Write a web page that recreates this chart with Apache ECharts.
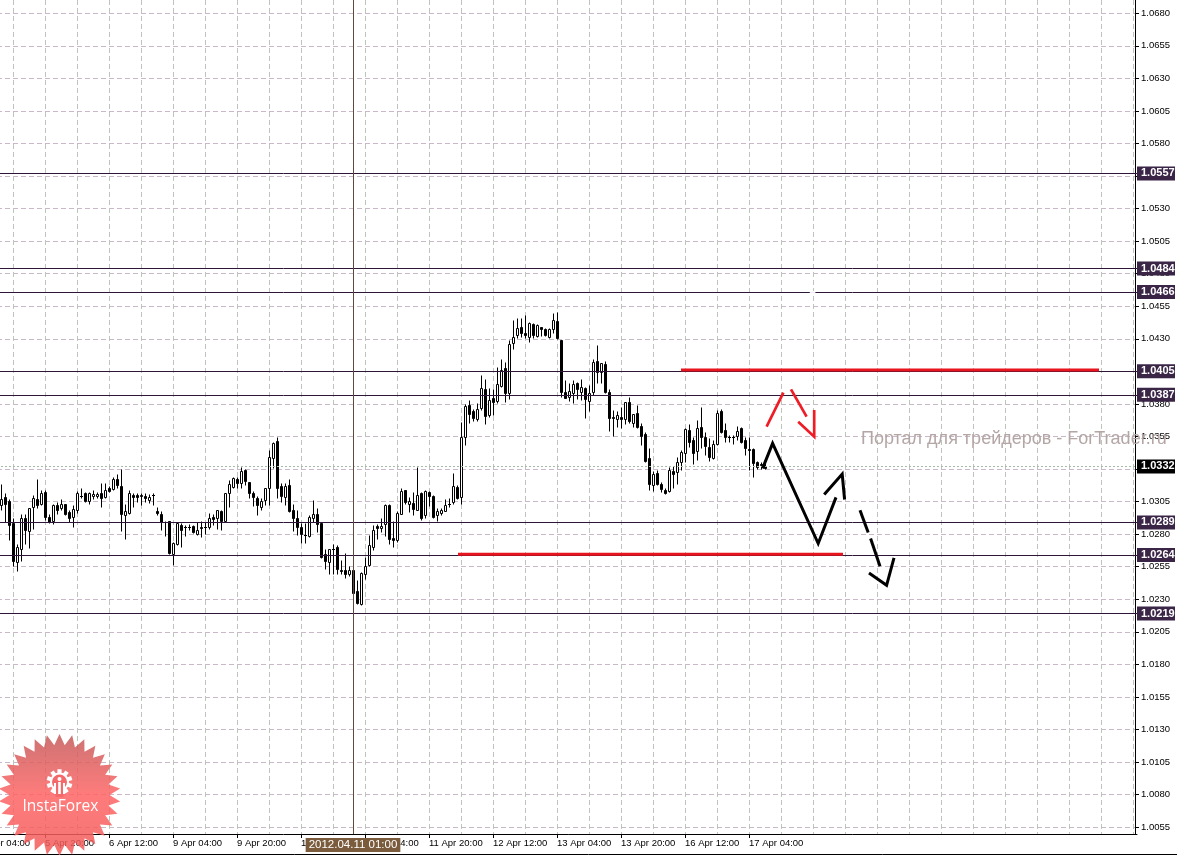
<!DOCTYPE html>
<html>
<head>
<meta charset="utf-8">
<script src="https://cdn.jsdelivr.net/npm/echarts@6/dist/echarts.min.js"></script>
<style>html,body{margin:0;padding:0;background:#fff}#c{width:1177px;height:855px}</style>
</head>
<body>
<div id="c"></div>
<script>
// x-axis labels, one every 16 hourly bars starting at bar 0
const tickLabels = ['5 Apr 04:00','5 Apr 20:00','6 Apr 12:00','9 Apr 04:00','9 Apr 20:00','10 Apr 12:00','11 Apr 04:00','11 Apr 20:00','12 Apr 12:00','13 Apr 04:00','13 Apr 20:00','16 Apr 12:00','17 Apr 04:00'];
const yTicks = [1.0055,1.0080,1.0105,1.0130,1.0155,1.0180,1.0205,1.0230,1.0255,1.0280,1.0305,1.0330,1.0355,1.0380,1.0405,1.0430,1.0455,1.0480,1.0505,1.0530,1.0555,1.0580,1.0605,1.0630,1.0655,1.0680];
const firstBar = 5;
// small calibration of the values
const readingShift = 0.00007;
const opens = [1.03015,1.03077,1.03046,1.02879,1.02579,1.02682,1.02920,1.02820,1.03003,1.03062,
1.03023,1.03115,1.02923,1.02895,1.03020,1.02990,1.03023,1.02962,1.02926,1.02982,
1.03087,1.03105,1.03049,1.03085,1.03085,1.03110,1.03079,1.03146,1.03141,1.03213,
1.03159,1.02941,1.02956,1.03092,1.03090,1.03090,1.03085,1.03054,1.03092,1.02974,
1.02951,1.02887,1.02890,1.02644,1.02720,1.02862,1.02846,1.02849,1.02859,1.02795,
1.02851,1.02846,1.02846,1.02923,1.02913,1.02969,1.02897,1.03110,1.03156,1.03215,
1.03182,1.03285,1.03190,1.03105,1.03074,1.03003,1.03054,1.03151,1.03374,1.03505,
1.03161,1.03079,1.03174,1.02982,1.02913,1.02846,1.02790,1.02777,1.02920,1.02944,
1.02877,1.02644,1.02579,1.02682,1.02692,1.02520,1.02518,1.02485,1.02520,1.02354,
1.02254,1.02490,1.02554,1.02695,1.02854,1.02841,1.02869,1.03018,1.02761,1.02746,
1.02949,1.03131,1.03028,1.03031,1.02979,1.03105,1.02938,1.03113,1.03085,1.02941,
1.02956,1.02974,1.03026,1.03041,1.03156,1.03079,1.03541,1.03784,1.03738,1.03679,
1.03764,1.03905,1.03710,1.03836,1.03818,1.03930,1.04066,1.03874,1.04264,1.04325,
1.04382,1.04336,1.04310,1.04405,1.04315,1.04382,1.04366,1.04310,1.04371,1.04430,
1.04284,1.03882,1.03848,1.03879,1.03951,1.03887,1.03913,1.03818,1.03882,1.04123,
1.04041,1.04100,1.03882,1.03689,1.03674,1.03689,1.03674,1.03807,1.03648,1.03720,
1.03623,1.03559,1.03374,1.03174,1.03259,1.03177,1.03131,1.03126,1.03277,1.03272,
1.03349,1.03413,1.03592,1.03513,1.03431,1.03613,1.03539,1.03459,1.03374,1.03485,
1.03741,1.03590,1.03541,1.03541,1.03546,1.03605,1.03515,1.03449,1.03449,1.03344,
1.03328,1.03315];
const closes = [1.03062,1.03023,1.02862,1.02585,1.02692,1.02913,1.02823,1.02990,1.03074,1.03015,
1.03108,1.02926,1.02885,1.03013,1.02977,1.03028,1.02951,1.02915,1.02987,1.03105,
1.03085,1.03051,1.03105,1.03103,1.03100,1.03067,1.03131,1.03126,1.03220,1.03169,
1.02951,1.02972,1.03105,1.03079,1.03079,1.03088,1.03072,1.03079,1.03090,1.02956,
1.02885,1.02885,1.02646,1.02728,1.02879,1.02826,1.02844,1.02847,1.02810,1.02828,
1.02838,1.02844,1.02920,1.02910,1.02982,1.02895,1.03105,1.03177,1.03223,1.03187,
1.03274,1.03200,1.03110,1.03079,1.03013,1.03051,1.03151,1.03382,1.03490,1.03149,
1.03085,1.03161,1.02972,1.02920,1.02849,1.02797,1.02788,1.02928,1.02951,1.02874,
1.02618,1.02587,1.02677,1.02680,1.02526,1.02510,1.02485,1.02520,1.02341,1.02264,
1.02497,1.02551,1.02713,1.02828,1.02838,1.02859,1.03020,1.02756,1.02746,1.02959,
1.03123,1.03041,1.03044,1.02987,1.03090,1.02920,1.03126,1.03085,1.02926,1.02974,
1.02982,1.03020,1.03024,1.03159,1.03072,1.03536,1.03777,1.03715,1.03684,1.03754,
1.03913,1.03702,1.03823,1.03810,1.03943,1.04054,1.03874,1.04251,1.04310,1.04377,
1.04341,1.04323,1.04413,1.04323,1.04400,1.04371,1.04323,1.04366,1.04438,1.04297,
1.03887,1.03841,1.03889,1.03946,1.03905,1.03920,1.03833,1.03874,1.04115,1.04041,
1.04107,1.03887,1.03682,1.03687,1.03707,1.03677,1.03810,1.03661,1.03715,1.03613,
1.03548,1.03356,1.03177,1.03251,1.03179,1.03141,1.03110,1.03282,1.03257,1.03344,
1.03423,1.03603,1.03503,1.03418,1.03605,1.03541,1.03469,1.03382,1.03482,1.03721,
1.03574,1.03541,1.03539,1.03539,1.03587,1.03503,1.03454,1.03436,1.03336,1.03310,
1.03326,1.03298];
const lows = [1.02982,1.02887,1.02746,1.02549,1.02508,1.02587,1.02715,1.02687,1.02836,1.02997,
1.03013,1.02905,1.02879,1.02869,1.02946,1.02982,1.02938,1.02885,1.02849,1.02956,
1.03074,1.03038,1.03023,1.03064,1.03067,1.03003,1.03074,1.03115,1.03131,1.03144,
1.02815,1.02754,1.02951,1.03003,1.03041,1.03015,1.03041,1.03033,1.03015,1.02938,
1.02823,1.02777,1.02638,1.02554,1.02710,1.02695,1.02777,1.02828,1.02803,1.02785,
1.02772,1.02792,1.02836,1.02862,1.02836,1.02823,1.02895,1.03003,1.03151,1.03144,
1.03144,1.03169,1.03067,1.03008,1.02938,1.02982,1.03018,1.03015,1.03300,1.03067,
1.03041,1.03015,1.02964,1.02818,1.02785,1.02726,1.02726,1.02772,1.02885,1.02810,
1.02610,1.02528,1.02487,1.02490,1.02490,1.02490,1.02456,1.02469,1.02336,1.02259,
1.02246,1.02451,1.02549,1.02669,1.02759,1.02810,1.02777,1.02715,1.02695,1.02733,
1.02944,1.03023,1.02964,1.02938,1.02977,1.02905,1.02913,1.03008,1.02918,1.02895,
1.02938,1.02969,1.03003,1.03028,1.03064,1.03023,1.03477,1.03648,1.03664,1.03664,
1.03746,1.03638,1.03689,1.03707,1.03802,1.03920,1.03810,1.03828,1.04213,1.04297,
1.04310,1.04297,1.04271,1.04297,1.04305,1.04315,1.04315,1.04297,1.04336,1.04289,
1.03843,1.03836,1.03818,1.03802,1.03828,1.03823,1.03682,1.03741,1.03861,1.03951,
1.03951,1.03879,1.03587,1.03546,1.03618,1.03605,1.03638,1.03648,1.03613,1.03605,
1.03477,1.03348,1.03130,1.03125,1.03174,1.03118,1.03100,1.03118,1.03144,1.03177,
1.03285,1.03349,1.03464,1.03331,1.03362,1.03451,1.03400,1.03354,1.03369,1.03477,
1.03567,1.03503,1.03498,1.03485,1.03515,1.03490,1.03400,1.03285,1.03228,1.03290,
1.03290,1.03290];
const highs = [1.03177,1.03105,1.03059,1.02918,1.02715,1.02951,1.02951,1.02990,1.03092,1.03213,
1.03131,1.03131,1.02951,1.03023,1.03041,1.03059,1.03028,1.02977,1.03015,1.03126,
1.03144,1.03113,1.03118,1.03131,1.03118,1.03182,1.03182,1.03161,1.03233,1.03254,
1.03292,1.03028,1.03131,1.03105,1.03110,1.03110,1.03110,1.03100,1.03110,1.03003,
1.02972,1.02895,1.02895,1.02733,1.02887,1.02879,1.02862,1.02869,1.02862,1.02887,
1.02895,1.02887,1.02956,1.02951,1.02982,1.02982,1.03110,1.03208,1.03228,1.03228,
1.03305,1.03292,1.03195,1.03126,1.03087,1.03067,1.03151,1.03438,1.03502,1.03541,
1.03182,1.03182,1.03213,1.03028,1.02982,1.02879,1.02879,1.02938,1.03054,1.02990,
1.02887,1.02682,1.02682,1.02715,1.02708,1.02597,1.02651,1.02546,1.02528,1.02444,
1.02503,1.02618,1.02785,1.02862,1.02869,1.02920,1.03028,1.03028,1.02895,1.02972,
1.03151,1.03131,1.03079,1.03118,1.03310,1.03118,1.03131,1.03126,1.03092,1.02990,
1.02997,1.03059,1.03074,1.03259,1.03169,1.03656,1.03792,1.03823,1.03751,1.03797,
1.04015,1.03982,1.03913,1.03905,1.04074,1.04136,1.04118,1.04284,1.04438,1.04451,
1.04451,1.04477,1.04425,1.04418,1.04407,1.04382,1.04374,1.04374,1.04495,1.04502,
1.04284,1.03977,1.03951,1.03977,1.03964,1.03982,1.03920,1.03938,1.04136,1.04246,
1.04110,1.04125,1.03905,1.03746,1.03741,1.03766,1.03810,1.03843,1.03715,1.03784,
1.03643,1.03574,1.03456,1.03279,1.03284,1.03195,1.03144,1.03305,1.03315,1.03387,
1.03439,1.03608,1.03636,1.03541,1.03669,1.03767,1.03580,1.03528,1.03515,1.03746,
1.03751,1.03644,1.03554,1.03554,1.03623,1.03618,1.03541,1.03541,1.03456,1.03354,
1.03349,1.03336];

// horizontal price levels, drawn by the axis scale
const levels = [1.0557,1.0484,1.0466,1.0405,1.0387,1.0289,1.0264,1.0219];
const bidLevel = 1.0332;
const cursorLabel = '2012.04.11 01:00';
const cursorBar = 93;

// hand-drawn marks: [bar position, price]
const redRules = [[[175,1.04054],[279.5,1.04054]],[[119.25,1.02638],[215.5,1.02638]]];
const redArrows = [
 [[196.4,1.03618],[200.6,1.03879]],
 [[202.5,1.03905],[206.4,1.03695]],
 [[204.3,1.03656],[208.3,1.03541],[208.3,1.03746]]
];
const blackArrows = [
 [[195.4,1.03298],[197.9,1.03490],[209.3,1.02721],[213.75,1.03075]],
 [[210.8,1.03098],[215.3,1.03254],[215.9,1.03059]],
 [[219.75,1.02977],[221.8,1.02805]],
 [[222.4,1.02759],[224.75,1.02546]],
 [[222,1.02495],[226.4,1.02400],[228.25,1.02610]]
];
const lineGap = [[207.2,1.0466],[208.6,1.0466]];

const barCount = 290;
const categories = Array.from({length:barCount},(_,i)=> (i%16===0 && tickLabels[i/16]) ? tickLabels[i/16] : (i===cursorBar ? cursorLabel : 'b'+i));
const shift = v => +(v+readingShift).toFixed(5);
const candles = opens.map((o,i)=>[i+firstBar,shift(o),shift(closes[i]),shift(lows[i]),shift(highs[i])]);

function seg(data,color,width,z,raw){
  return {type:'line',xAxisIndex:1,yAxisIndex:0,data:raw?data:data.map(p=>[p[0],shift(p[1])]),symbol:'none',silent:true,animation:false,z:z||5,
    lineStyle:{color,width,cap:'butt',join:'miter'}};
}
const tag = (txt,bg)=>({formatter:txt,show:true,position:'end',distance:0,backgroundColor:bg,color:'#fff',
  fontFamily:'Liberation Sans',fontSize:11,fontWeight:'bold',padding:[1,2,1,4],width:32,lineHeight:12});

// MetaTrader-style candle: 3 pixel columns wide, wick on the middle one
function renderCandle(params,api){
  const i=api.value(0),o=api.value(1),c=api.value(2),l=api.value(3),h=api.value(4);
  const snap=v=>Math.round(v)+0.5;
  const x=snap(api.coord([i,o])[0]);
  const yO=snap(api.coord([i,o])[1]),yC=snap(api.coord([i,c])[1]);
  const yL=snap(api.coord([i,l])[1]),yH=snap(api.coord([i,h])[1]);
  const top=Math.min(yO,yC),bot=Math.max(yO,yC);
  const st={stroke:'#000',lineWidth:1};
  const kids=[{type:'line',shape:{x1:x,y1:yH,x2:x,y2:yL},style:st,silent:true}];
  if(top===bot){
    kids.push({type:'line',shape:{x1:x-1.5,y1:top,x2:x+1.5,y2:top},style:st,silent:true});
  }else{
    kids.push({type:'rect',shape:{x:x-1,y:top,width:2,height:bot-top},style:{stroke:'#000',lineWidth:1,fill:c>o?'#fff':'#000'},silent:true});
  }
  return {type:'group',children:kids};
}

const chart = echarts.init(document.getElementById('c'),null,{renderer:'canvas'});

// InstaForex badge shape
const cx=59.5, cy=795, spikes=30;
const star=[];
for(let i=0;i<spikes*2;i++){const a=Math.PI*i/spikes-Math.PI/2,r=i%2?50:61;star.push([cx+r*Math.cos(a),cy+r*Math.sin(a)]);}
const gx=59.5, gy=782;
const gear=[];
for(let i=0;i<10;i++){
  const a0=2*Math.PI*i/10-Math.PI/2;
  [[-0.22,9.5],[-0.16,13],[0.16,13],[0.22,9.5],[0.31,9.5]].forEach(p=>{const a=a0+p[0];gear.push([gx+p[1]*Math.cos(a),gy+p[1]*Math.sin(a)]);});
}

chart.setOption({
  animation:false,
  backgroundColor:'#ffffff',
  grid:{left:-19,top:0,width:1156,height:834,containLabel:false,outerBoundsMode:'none'},
  xAxis:[{
    type:'category',data:categories,boundaryGap:false,position:'bottom',
    axisLine:{show:true,onZero:false,lineStyle:{color:'#000',width:1}},
    axisTick:{show:true,length:4,interval:i=>i%16===0&&i/16<tickLabels.length,lineStyle:{color:'#000'}},
    axisLabel:{show:true,interval:i=>i%16===0&&i/16<tickLabels.length,align:'left',margin:4,color:'#000',fontFamily:'Liberation Sans',fontSize:9.5,hideOverlap:false,showMinLabel:true},
    splitLine:{show:true,interval:i=>i%8===0,lineStyle:{color:'#bcc4bc',type:[5,3],width:1}}
  },{
    type:'value',min:0,max:barCount-1,show:false,splitLine:{show:false},axisLine:{show:false},axisTick:{show:false},axisLabel:{show:false}
  }],
  yAxis:[{
    type:'value',position:'right',offset:-2,min:1.00497,max:1.06902,scale:true,
    axisLine:{show:true,onZero:false,lineStyle:{color:'#000',width:1}},
    axisTick:{show:true,length:4,customValues:yTicks,lineStyle:{color:'#000'}},
    axisLabel:{show:true,customValues:yTicks,margin:6,color:'#000',fontFamily:'Liberation Sans',fontSize:9.5,formatter:v=>v.toFixed(4),showMinLabel:true,showMaxLabel:true},
    splitLine:{show:true,lineStyle:{color:'#c8b8c8',type:[5,3],width:1}}
  }],
  series:[
    {type:'custom',name:'EURUSD',xAxisIndex:0,yAxisIndex:0,data:candles,renderItem:renderCandle,silent:true,z:4,clip:false,
     encode:{x:0,y:[1,2,3,4]}},
    {type:'line',xAxisIndex:0,yAxisIndex:0,data:[],silent:true,z:5,
     markLine:{silent:true,symbol:'none',animation:false,precision:5,z:5,
       data:[
         ...levels.map(v=>({yAxis:v,lineStyle:{color:'#2d1738',width:1,type:'solid'},label:tag(v.toFixed(4),'#3a2547')})),
         {yAxis:bidLevel,lineStyle:{color:'#aab8aa',width:1,type:[2,2]},label:tag(bidLevel.toFixed(4),'#000')},
         {xAxis:cursorLabel,lineStyle:{color:'#5d4a3c',width:1,type:'solid'},
          label:{show:true,formatter:cursorLabel,position:'start',distance:4,backgroundColor:'#7a5c3c',color:'#fff',fontFamily:'Liberation Sans',fontSize:11.5,padding:[1,3,1,3],lineHeight:12}}
       ]}
    },
    ...redRules.map(d=>seg(d,'#e8141e',3,6)),
    ...redArrows.map(d=>seg(d,'#ee1c25',2.7,6)),
    ...blackArrows.map(d=>seg(d,'#000',3,6)),
    seg(lineGap,'#ffffff',2,5.5,true)
  ],
  graphic:[
    {type:'line',z:1,shape:{x1:0,y1:854.5,x2:1177,y2:854.5},style:{stroke:'#000',lineWidth:1},silent:true},
    {type:'text',z:50,left:861,top:430,silent:true,style:{text:'Портал для трейдеров - ForTrader.ru',fill:'#b5a6a6',font:'18px "Liberation Sans"'}},
    {type:'polygon',z:60,silent:true,shape:{points:star},style:{opacity:0.85,fill:new echarts.graphic.LinearGradient(0,0,0,1,[{offset:0,color:'#c45a5a'},{offset:0.5,color:'#ff6464'},{offset:1,color:'#f05a5a'}])}},
    {type:'polygon',z:61,silent:true,shape:{points:gear},style:{fill:'#fff'}},
    {type:'circle',z:62,silent:true,shape:{cx:gx,cy:gy,r:7.5},style:{fill:'#f46a6a'}},
    {type:'circle',z:63,silent:true,shape:{cx:gx,cy:gy-3,r:2},style:{fill:'#fff'}},
    {type:'rect',z:63,silent:true,shape:{x:gx-1.3,y:gy,width:2.6,height:12},style:{fill:'#fff'}},
    {type:'rect',z:62,silent:true,shape:{x:gx-4,y:gy+6,width:8,height:9},style:{fill:'#f46a6a'}},
    {type:'rect',z:63,silent:true,shape:{x:gx-5.5,y:gy+1,width:2,height:11},style:{fill:'#fff'}},
    {type:'rect',z:63,silent:true,shape:{x:gx+3.5,y:gy+1,width:2,height:11},style:{fill:'#fff'}},
    {type:'text',z:64,left:22.5,top:799,silent:true,style:{text:'InstaForex',fill:'#fff',font:'15.5px "Open Sans", "Liberation Sans"'}}
  ]
});
</script>
</body>
</html>
